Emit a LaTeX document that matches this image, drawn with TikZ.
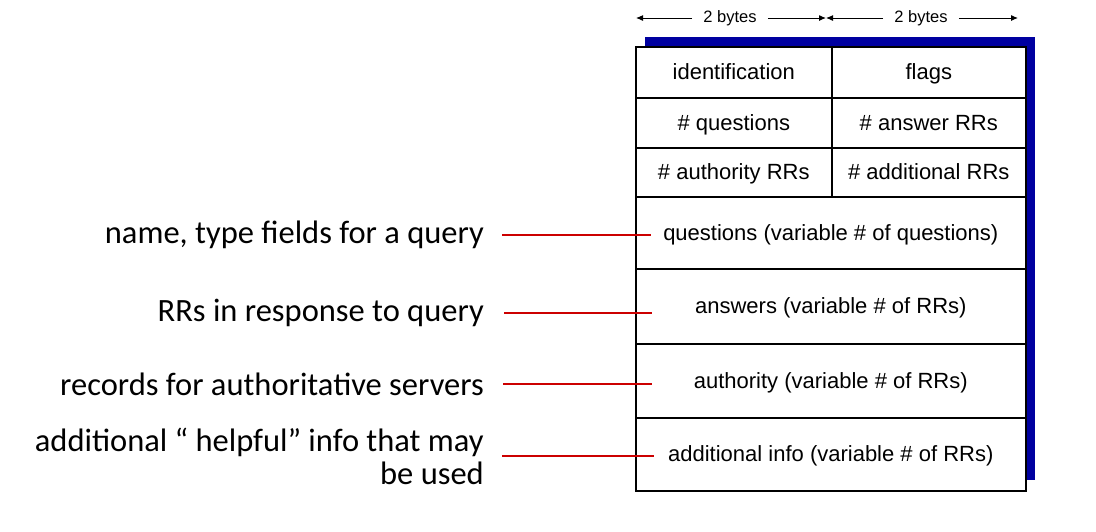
\documentclass[tikz,border=0pt]{standalone}
\usepackage{fontspec}
\setmainfont{Liberation Sans}
\newfontfamily\carlito{Carlito}
\usetikzlibrary{arrows.meta}
\definecolor{shadowblue}{RGB}{0,0,160}
\definecolor{leadred}{RGB}{204,0,0}
\begin{document}
\begin{tikzpicture}[x=1pt,y=-1pt,
 cell/.style={draw=black, line width=1.6pt, fill=white, inner sep=0pt, anchor=north west, font=\fontsize{22}{26}\selectfont, text height=18pt, text depth=3pt},
 lbl/.style={font=\carlito\fontsize{32.5}{33}\selectfont, anchor=east, align=right, inner sep=0pt},
 lead/.style={draw=leadred, line width=1.8pt},
 dim/.style={-{Latex[length=7pt,width=6pt]}, line width=1pt},
 dimtxt/.style={font=\fontsize{16.5}{18}\selectfont, inner sep=0pt}]
\useasboundingbox (0,0) rectangle (1096,531);
\fill[shadowblue] (645,37) rectangle (1035,480);
% cells
\node[cell, minimum width=196, minimum height=51] (id) at (635,46) {identification};
\node[cell, minimum width=194, minimum height=51] (fl) at (831,46) {flags};
\node[cell, minimum width=196, minimum height=50] (nq) at (635,97) {\# questions};
\node[cell, minimum width=194, minimum height=50] (na) at (831,97) {\# answer RRs};
\node[cell, minimum width=196, minimum height=49] (nau) at (635,147) {\# authority RRs};
\node[cell, minimum width=194, minimum height=49] (nad) at (831,147) {\# additional RRs};
\node[cell, minimum width=390, minimum height=72] (q) at (635,196) {questions (variable \# of questions)};
\node[cell, minimum width=390, minimum height=75] (ans) at (635,268) {answers (variable \# of RRs)};
\node[cell, minimum width=390, minimum height=74] (auth) at (635,343) {authority (variable \# of RRs)};
\node[cell, minimum width=390, minimum height=73] (add) at (635,417) {additional info (variable \# of RRs)};
% dimension arrows
\coordinate (d0) at (636,18);
\coordinate (d1) at (826,18);
\coordinate (d2) at (1018,18);
\node[dimtxt] (b1) at (730,18) {2 bytes};
\node[dimtxt] (b2) at (921,18) {2 bytes};
\draw[dim] ([xshift=-11pt]b1.west) -- (d0);
\draw[dim] ([xshift=11pt]b1.east) -- (d1);
\draw[dim] ([xshift=-11pt]b2.west) -- (d1);
\draw[dim] ([xshift=11pt]b2.east) -- (d2);
% labels
\node[lbl] (l1) at (484,235) {name, type fields for a query};
\node[lbl] (l2) at (484,313) {RRs in response to query};
\node[lbl] (l3) at (484,384) {records for authoritative servers};
\node[lbl] (l4) at (484,456) {additional “ helpful” info that may\\be used};
\draw[lead] ([xshift=18pt]l1.east) -- ++(149,0);
\draw[lead] ([xshift=20pt]l2.east) -- ++(148,0);
\draw[lead] ([xshift=19pt]l3.east) -- ++(149,0);
\draw[lead] ([xshift=18pt]l4.east) -- ++(152,0);
\end{tikzpicture}
\end{document}
